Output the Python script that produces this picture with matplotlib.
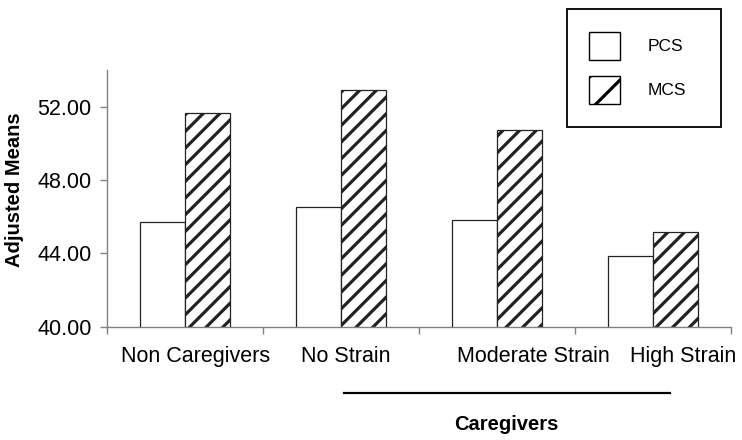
import matplotlib.pyplot as plt
import matplotlib.transforms as mtransforms
from matplotlib.patches import Patch
import numpy as np

plt.rcParams['font.family'] = ['Liberation Sans', 'DejaVu Sans']
plt.rcParams['hatch.linewidth'] = 2.3
plt.rcParams['hatch.color'] = 'black'

# dane
grupy = ["Non Caregivers", "No Strain", "Moderate Strain", "High Strain"]
pcs = [45.7, 46.5, 45.8, 43.85]
mcs = [51.65, 52.9, 50.75, 45.15]
y_ticks = [40, 44, 48, 52]

# przesuniecia podpisow kategorii (w jednostkach osi x)
przesuniecia = [0.07, 0.03, 0.23, 0.19]

fig = plt.figure(figsize=(7.42, 4.40), dpi=100)
ax = fig.add_axes([0.1442, 0.2575, 0.841, 0.5835])

x = np.arange(len(grupy))
szer = 0.29
ax.bar(x - szer / 2, pcs, szer, color='white', edgecolor='#222222', linewidth=0.9)
ax.bar(x + szer / 2, mcs, szer, color='white', edgecolor='#222222', linewidth=0.9, hatch='//')

ax.set_xlim(-0.5, len(grupy) - 0.5)
ax.set_ylim(40, 54)
ax.set_yticks(y_ticks)
ax.set_yticklabels([f"{v:.2f}" for v in y_ticks], fontsize=15.5)
ax.set_xticks(np.arange(len(grupy) + 1) - 0.5)
ax.set_xticklabels([])

for s in ['top', 'right']:
    ax.spines[s].set_visible(False)
for s in ['left', 'bottom']:
    ax.spines[s].set_color('#808080')
    ax.spines[s].set_linewidth(1.0)
ax.tick_params(axis='y', length=5, width=1, color='#808080', pad=6)
ax.tick_params(axis='x', length=5, width=1, color='#808080')

trans = mtransforms.blended_transform_factory(ax.transData, ax.transAxes)
for i, nazwa in enumerate(grupy):
    ax.text(i + przesuniecia[i], -0.118, nazwa, transform=trans,
            ha='center', va='center', fontsize=15.5)

# linia i podpis grupy opiekunow
ax.plot([1.02, 3.11], [-0.258, -0.258], transform=trans, color='black',
        linewidth=1.6, clip_on=False)
ax.text(2.062, -0.379, "Caregivers", transform=trans, ha='center', va='center',
        fontsize=14.5, fontweight='bold')

fig.text(15 / 742, 0.568, "Adjusted Means", rotation=90, ha='center', va='center',
         fontsize=14.5, fontweight='bold')

uchwyty = [Patch(facecolor='white', edgecolor='black', linewidth=1.0, label='PCS'),
           Patch(facecolor='white', edgecolor='black', linewidth=1.0, hatch='/', label='MCS')]
leg = fig.legend(handles=uchwyty, loc='upper left',
                 bbox_to_anchor=(0.764, 0.6, 0.2075, 0.3795),
                 bbox_transform=fig.transFigure, mode='expand', borderaxespad=0,
                 fontsize=12.5, handlelength=1.75, handleheight=2.1,
                 handletextpad=1.6, labelspacing=0.95, borderpad=1.3,
                 fancybox=False, framealpha=1, edgecolor='black')
leg.get_frame().set_linewidth(1.3)

fig.savefig("out.png", dpi=100)
